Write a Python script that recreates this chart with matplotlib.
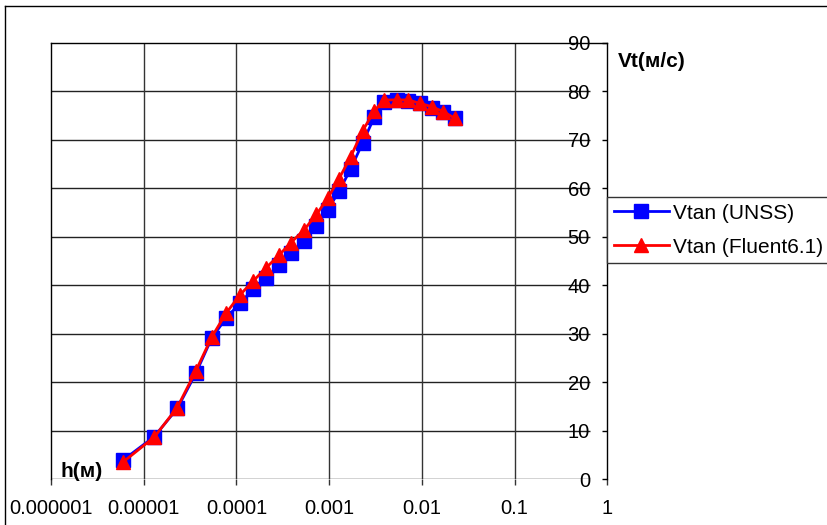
import matplotlib
matplotlib.use("Agg")
import matplotlib.pyplot as plt
from matplotlib.lines import Line2D

plt.rcParams['font.family'] = ['Liberation Sans', 'DejaVu Sans']

# distance from the wall, m
h = [6.03e-6, 1.30e-5, 2.30e-5, 3.66e-5, 5.41e-5, 7.71e-5, 1.09e-4, 1.52e-4,
     2.09e-4, 2.88e-4, 3.87e-4, 5.36e-4, 7.29e-4, 9.63e-4, 1.28e-3, 1.71e-3,
     2.29e-3, 3.08e-3, 3.95e-3, 5.34e-3, 7.13e-3, 9.55e-3, 1.28e-2, 1.70e-2,
     2.28e-2]
# tangential velocity, m/s
vtan_unss = [4.0, 8.8, 14.6, 21.9, 29.1, 33.2, 36.3, 39.2, 41.4, 44.2, 46.6,
             49.2, 52.2, 55.5, 59.4, 64.0, 69.3, 74.7, 77.8, 78.2, 78.0, 77.5,
             76.5, 75.8, 74.4]
vtan_fluent = [3.6, 8.7, 14.8, 22.4, 29.3, 34.2, 38.0, 40.9, 43.6, 46.2, 48.8,
               51.4, 54.6, 57.9, 62.0, 66.5, 71.8, 76.0, 78.2, 78.2, 78.2, 77.5,
               76.8, 75.8, 74.4]

xticks = [1e-6, 1e-5, 1e-4, 1e-3, 1e-2, 1e-1, 1]
xlabels = ['0.000001', '0.00001', '0.0001', '0.001', '0.01', '0.1', '1']
yticks = list(range(0, 100, 10))

W, H = 827, 525
fig = plt.figure(figsize=(W / 100, H / 100), dpi=100)
ax = fig.add_axes([51 / W, 1 - 479.3 / H, (607.3 - 51) / W, (479.3 - 42.7) / H])

ax.set_xscale('log')
ax.set_xlim(1e-6, 1)
ax.set_ylim(0, 90)

# grid: horizontal lines stop short of the value labels
xend = 10 ** ((590 - 607.3) / 92.72)
ax.hlines(yticks[:-1], 1e-6, xend, colors='#222222', lw=1.0, zorder=1)
ax.vlines(xticks[1:-1], 0, 90, colors='#333333', lw=1.0, zorder=1)

ax.plot(h, vtan_unss, color='#0000ff', lw=2.0, marker='s', ms=10,
        mec='#0000ff', mfc='#0000ff', label='Vtan (UNSS)', zorder=3)
ax.plot(h, vtan_fluent, color='#ff0000', lw=2.0, marker='^', ms=10,
        mec='#ff0000', mfc='#ff0000', label='Vtan (Fluent6.1)', zorder=4)

ax.spines['bottom'].set_visible(False)
for s in ('top', 'left', 'right'):
    ax.spines[s].set_color('black')
    ax.spines[s].set_linewidth(1.0)

ax.set_xticks(xticks, xlabels)
ax.minorticks_off()
ax.tick_params(axis='x', direction='out', length=4.3, width=1, color='#333333',
               labelsize=14.5, pad=10)

ax.yaxis.tick_right()
ax.set_yticks(yticks)
ax.tick_params(axis='y', direction='in', length=3.6, width=1,
               labelsize=14.5, pad=-12.5)
for lab in ax.get_yticklabels():
    lab.set_horizontalalignment('right')

fig.text(618 / W, 1 - 66.7 / H, 'Vt(м/с)', fontsize=15, fontweight='bold',
         ha='left', va='baseline')
fig.text(61 / W, 1 - 477 / H, 'h(м)', fontsize=15, fontweight='bold',
         ha='left', va='baseline')

leg = fig.legend(loc='upper left', mode='expand',
                 bbox_to_anchor=(606.7 / W, 1 - 262.3 / H, 235 / W, 65.6 / H),
                 borderaxespad=0, fontsize=15, handlelength=2.67,
                 handletextpad=0.2, borderpad=0.33, labelspacing=0.72,
                 fancybox=False, framealpha=1, edgecolor='#333333')
leg.get_frame().set_linewidth(1.0)

# outer chart border
fig.add_artist(Line2D([5 / W, 5 / W], [0, 1 - 6 / H], color='black', lw=1.0,
                      transform=fig.transFigure))
fig.add_artist(Line2D([5 / W, 1], [1 - 6 / H, 1 - 6 / H], color='black', lw=1.0,
                      transform=fig.transFigure))

fig.savefig('out.png', dpi=100)
